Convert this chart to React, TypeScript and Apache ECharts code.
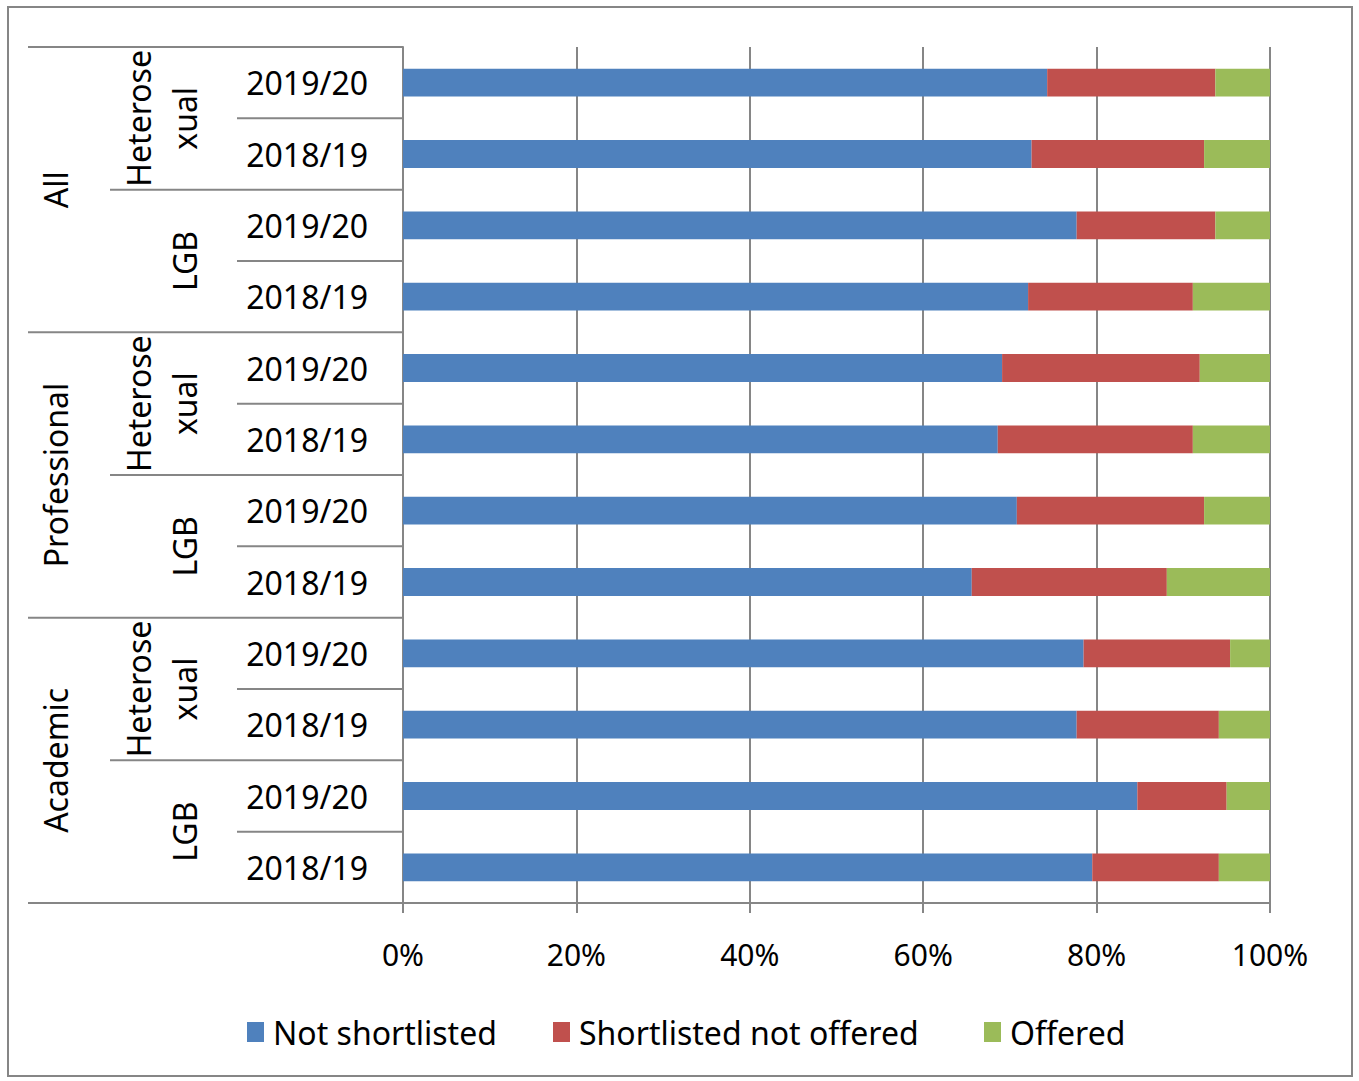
import React, { useEffect, useRef } from "react";
import * as echarts from "echarts";

const years = [
  "2019/20", "2018/19", "2019/20", "2018/19",
  "2019/20", "2018/19", "2019/20", "2018/19",
  "2019/20", "2018/19", "2019/20", "2018/19",
];
const groups = ["Heterosexual", "LGB", "Heterosexual", "LGB", "Heterosexual", "LGB"];
const sectors = ["All", "Professional", "Academic"];
const seriesNames = ["Not shortlisted", "Shortlisted not offered", "Offered"];
const notShortlisted = [74.3, 72.5, 77.7, 72.1, 69.1, 68.6, 70.8, 65.6, 78.5, 77.7, 84.7, 79.5];
const shortlistedNotOffered = [19.4, 19.9, 16.0, 19.0, 22.8, 22.5, 21.6, 22.5, 16.9, 16.4, 10.3, 14.6];
const offered = [6.3, 7.6, 6.3, 8.9, 8.1, 8.9, 7.6, 11.9, 4.6, 5.9, 5.0, 5.9];
const colors = ["#4F81BD", "#C0504D", "#9BBB59"];
const xTicks = [0, 20, 40, 60, 80, 100];

const W = 1359;
const H = 1081;
const GRID_LEFT = 403;
const GRID_RIGHT_X = 1270;
const GRID_TOP = 47;
const GRID_BOTTOM_Y = 903;
const LINE = "#868686";
const FONT = "Noto Sans";

export default function App() {
  const ref = useRef<HTMLDivElement>(null);

  useEffect(() => {
    if (!ref.current) return;
    const chart = echarts.init(ref.current, undefined, { renderer: "svg" });
    const rowH = (GRID_BOTTOM_Y - GRID_TOP) / years.length;

    const graphics: any[] = [];
    graphics.push({
      type: "rect",
      shape: { x: 8, y: 7, width: 1344, height: 1069 },
      style: { fill: "none", stroke: LINE, lineWidth: 2 },
      silent: true,
    });
    for (let k = 0; k <= years.length; k++) {
      let x0 = 237;
      if (k % 4 === 0) x0 = 28;
      else if (k % 2 === 0) x0 = 110;
      const y = GRID_TOP + k * rowH;
      graphics.push({
        type: "line",
        shape: { x1: x0, y1: y, x2: GRID_LEFT, y2: y },
        style: { stroke: LINE, lineWidth: 2 },
        silent: true,
      });
    }
    sectors.forEach((s, g) => {
      graphics.push({
        type: "text",
        x: 55,
        y: GRID_TOP + (4 * g + 2) * rowH,
        rotation: Math.PI / 2,
        style: {
          text: s,
          fontSize: 32,
          fontFamily: FONT,
          fill: "#000",
          align: "center",
          verticalAlign: "middle",
        },
      });
    });
    groups.forEach((gname, j) => {
      const isHetero = gname === "Heterosexual";
      graphics.push({
        type: "text",
        x: isHetero ? 161 : 184,
        y: GRID_TOP + (2 * j + 1) * rowH,
        rotation: Math.PI / 2,
        style: {
          text: gname,
          fontSize: 32,
          fontFamily: FONT,
          fill: "#000",
          align: "center",
          verticalAlign: "middle",
          width: 142,
          overflow: "breakAll",
          lineHeight: 46,
        },
      });
    });

    const dataSets = [notShortlisted, shortlistedNotOffered, offered];
    const legendLefts = [247, 553, 984];

    chart.setOption({
      animation: false,
      textStyle: { fontFamily: FONT },
      color: colors,
      legend: seriesNames.map((n, i) => ({
        data: [n],
        left: legendLefts[i],
        top: 1016,
        padding: 0,
        itemWidth: 17,
        itemHeight: 20,
        itemGap: 13,
        icon: "rect",
        textStyle: { fontSize: 32, color: "#000", fontFamily: FONT, padding: [0, 0, 0, 4] },
      })),
      grid: {
        left: GRID_LEFT,
        right: W - GRID_RIGHT_X,
        top: GRID_TOP,
        bottom: H - GRID_BOTTOM_Y,
        containLabel: false,
      },
      xAxis: {
        type: "value",
        min: xTicks[0],
        max: xTicks[xTicks.length - 1],
        interval: xTicks[1] - xTicks[0],
        axisLine: { show: true, lineStyle: { color: LINE, width: 2 } },
        axisTick: { show: true, length: 10, lineStyle: { color: LINE, width: 2 } },
        splitLine: { show: true, lineStyle: { color: LINE, width: 2 } },
        axisLabel: {
          formatter: "{value}%",
          fontSize: 30,
          color: "#000",
          fontFamily: FONT,
          margin: 36,
        },
      },
      yAxis: {
        type: "category",
        data: years,
        inverse: true,
        axisLine: { show: true, lineStyle: { color: LINE, width: 2 } },
        axisTick: { show: false },
        splitLine: { show: false },
        axisLabel: {
          interval: 0,
          fontSize: 32,
          color: "#000",
          fontFamily: FONT,
          margin: 35,
        },
      },
      series: seriesNames.map((n, i) => ({
        name: n,
        type: "bar",
        stack: "total",
        barWidth: "39%",
        data: dataSets[i],
        itemStyle: { color: colors[i] },
      })),
      graphic: graphics,
    });

    return () => chart.dispose();
  }, []);

  return (
    <div
      ref={ref}
      style={{ position: "fixed", left: 0, top: 0, width: W, height: H, background: "#fff" }}
    />
  );
}
